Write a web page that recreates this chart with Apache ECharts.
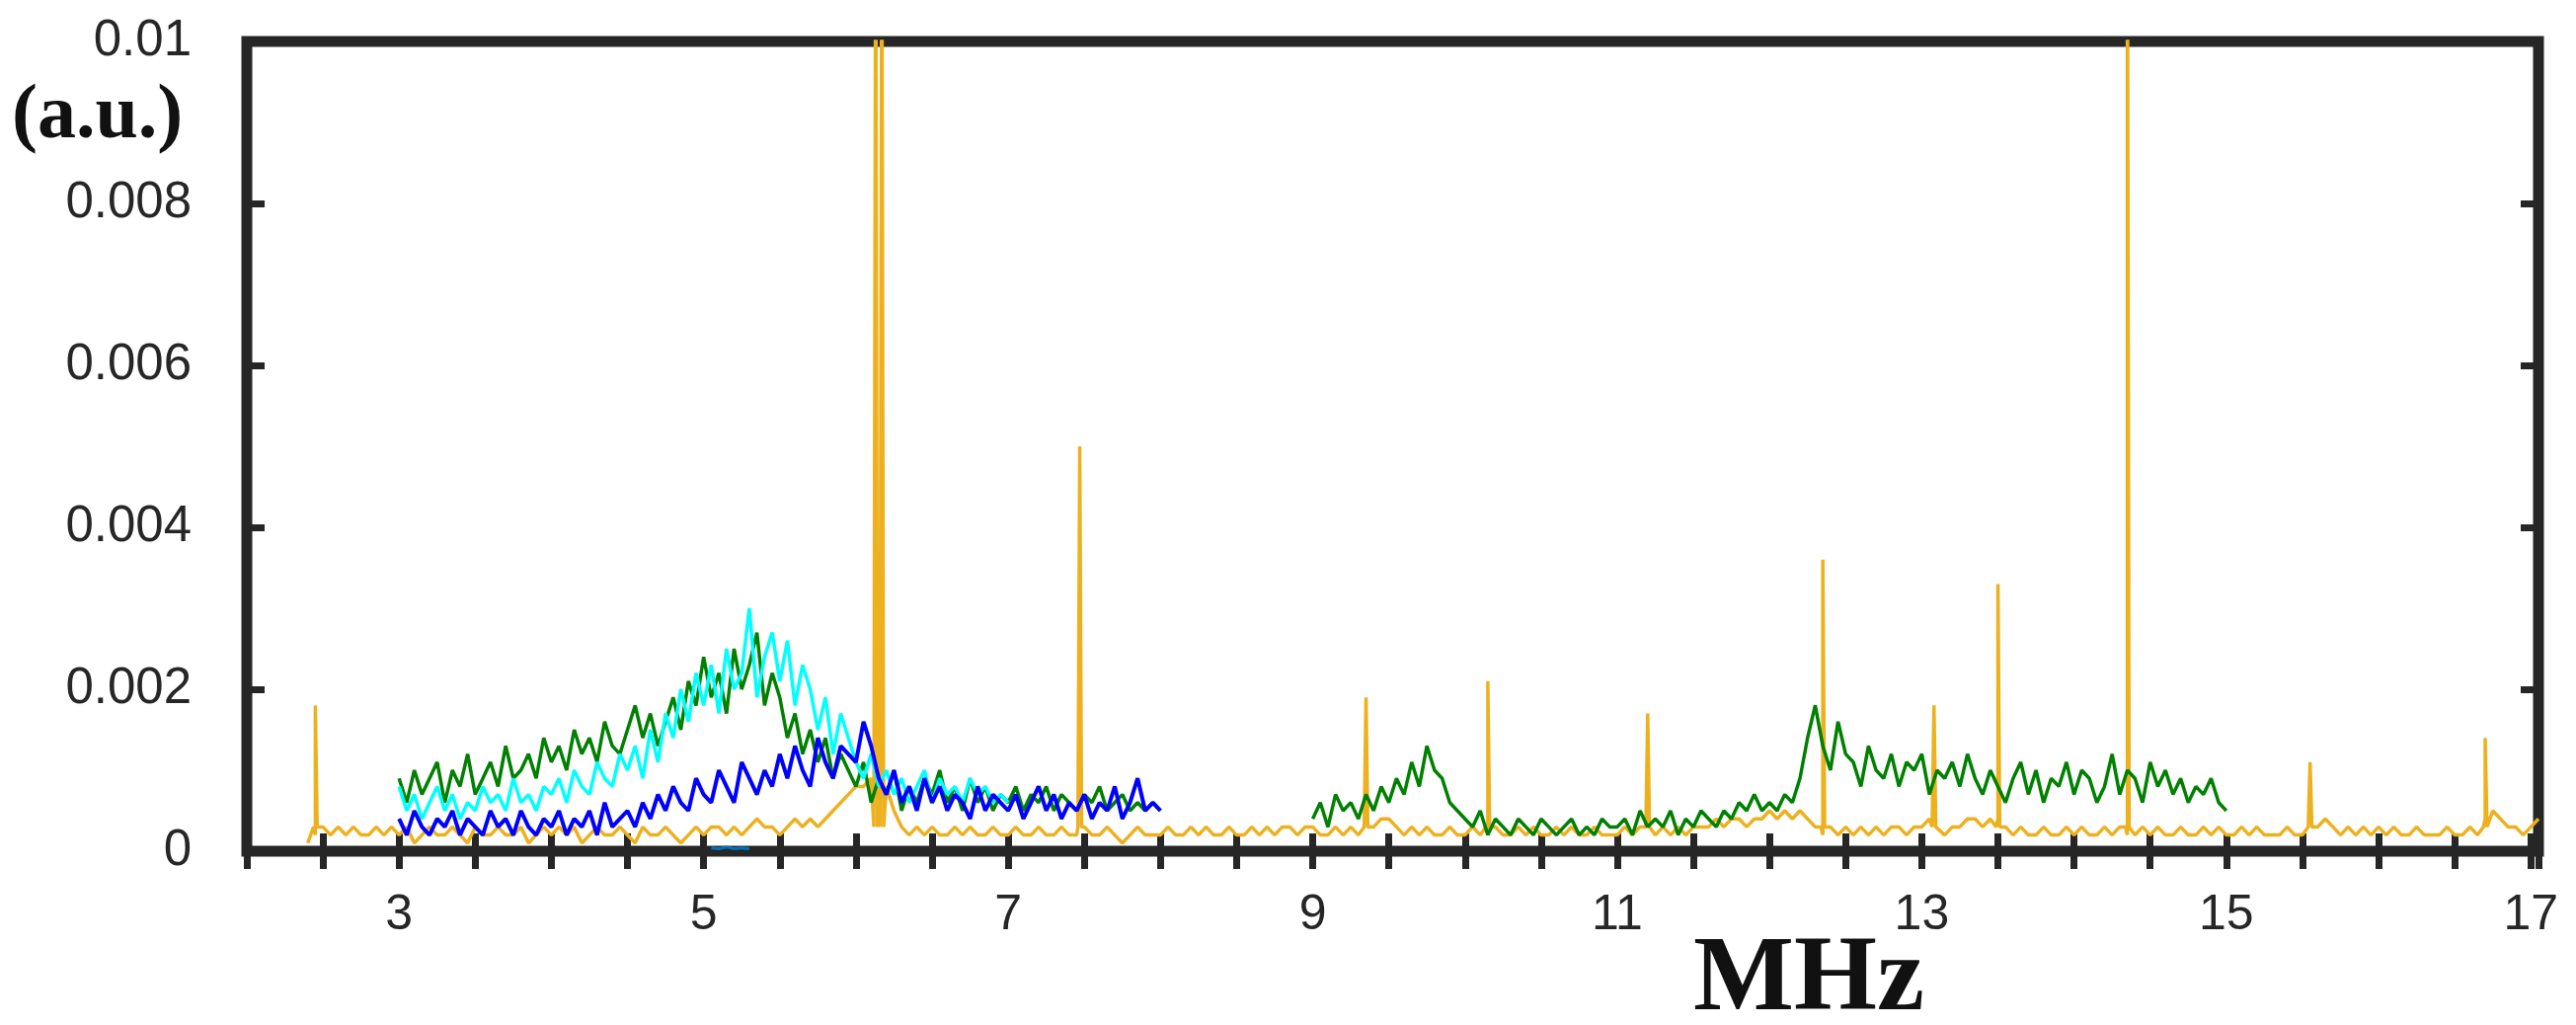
<!DOCTYPE html>
<html><head><meta charset="utf-8">
<script src="https://cdn.jsdelivr.net/npm/echarts@6/dist/echarts.min.js"></script>
<style>html,body{margin:0;padding:0;background:#fff}#c{width:2609px;height:1038px}</style>
</head><body><div id="c"></div>
<script>
// values in units of 1e-4 (a.u.)
const orangeStart = 2.4, step = 0.05;
const orangeBase = [
1,2,3,2,3,2,3,2,2,3,2,3,
2,3,1,2,3,2,2,3,2,1,3,2,2,3,2,2,3,1,2,3,
2,3,2,3,1,2,3,2,2,3,2,1,3,2,2,3,2,1,2,3,
2,3,3,2,3,2,3,4,3,3,2,3,4,3,4,3,4,5,6,7,
8,8,9,7,8,5,3,2,3,2,3,2,2,3,2,3,2,2,3,2,
2,3,2,2,3,2,2,3,2,2,3,2,2,3,2,1,2,3,2,2,
2,3,2,2,3,2,3,2,2,3,2,2,3,2,3,2,3,3,2,3,
3,2,2,3,2,3,2,3,3,4,4,3,2,3,2,3,2,2,3,2,
2,3,2,2,3,2,2,3,2,3,2,2,3,2,3,2,2,3,2,2,
2,3,2,3,3,2,3,2,3,2,3,3,3,4,3,4,4,3,4,4,
5,4,5,4,5,4,3,2,3,2,3,2,3,2,3,2,3,3,2,3,
3,4,3,2,3,3,4,4,3,4,4,3,2,3,2,2,3,2,2,3,
2,3,2,2,3,2,3,2,2,3,2,3,2,2,3,2,2,3,2,3,
2,2,3,2,3,2,2,2,3,2,2,3,3,4,3,2,3,2,3,2,
3,2,3,2,2,3,2,2,2,3,2,2,3,2,4,5,4,3,3,2,
3,4];
const orangePeaks = [[2.45,18],[6.13,120],[6.17,120],[7.47,50],[9.35,19],[10.15,21],[11.2,17],[12.35,36],[13.08,18],[13.5,33],[14.35,120],[15.55,11],[16.7,14]];
const greenAStart = 3.0;
const greenA = [
9,6,10,7,9,11,6,10,8,12,7,9,11,8,13,9,10,12,9,14,
11,13,10,15,12,14,11,16,13,12,15,18,14,17,13,16,19,15,21,18,
24,19,22,17,25,20,23,27,18,22,19,14,17,12,15,11,14,9,12,10,
8,11,6,9,7,10,5,8,6,9,7,10,6,8,5,9,6,8,5,7,
6,8,5,7,6,8,5,7,6,5,7,6,8,5,6,7,5,6,5,6,5];
const greenBStart = 9.0;
const greenB = [
4,6,3,7,5,6,4,7,5,8,6,9,7,11,8,13,10,9,6,5,
4,3,5,2,4,3,2,4,3,2,4,3,2,3,4,2,3,2,4,3,
3,4,2,5,3,4,3,5,2,4,3,5,4,3,5,4,6,5,7,5,
6,5,7,6,9,14,18,13,10,16,12,11,8,13,10,9,12,8,11,10,
12,7,10,9,11,8,12,9,7,10,8,6,9,11,7,10,6,9,8,11,
7,10,9,6,8,12,7,10,9,6,11,8,10,7,9,6,8,7,9,6,5];
const cyanStart = 3.0;
const cyan = [
8,5,7,4,6,8,5,7,4,6,5,8,6,7,5,9,6,7,5,8,
7,9,6,10,8,7,11,9,8,12,10,13,9,15,11,17,14,20,16,22,
18,23,17,25,20,22,30,19,24,27,21,26,18,23,20,15,19,12,17,14,
11,9,12,8,10,7,9,6,8,10,6,9,7,8,6,9,7,8,6,7,6];
const blueStart = 3.0;
const blue = [
4,2,5,3,2,4,3,5,2,4,3,2,5,3,4,2,5,3,2,4,
3,5,2,4,3,5,2,6,3,4,5,3,6,4,7,5,8,6,5,9,
7,6,10,8,6,11,9,7,10,8,12,9,13,10,8,14,11,9,13,12,
11,16,13,9,7,10,6,8,5,9,6,8,5,7,6,4,8,5,7,6,
5,7,4,6,8,5,7,4,6,5,7,4,6,5,8,4,6,9,5,6,5];
const smallStart = 5.05;
const small = [0.4,0.3,0.5,0.3,0.4,0.3];
const yTickLabels = ['0','0.002','0.004','0.006','0.008','0.01'];
const xTickLabels = ['3','5','7','9','11','13','15','17'];

function build(start, arr){ return arr.map((v,i)=>[+(start+i*step).toFixed(3), v*1e-4]); }
function buildOrange(){
  const pts = build(orangeStart, orangeBase);
  orangePeaks.forEach(([x,v])=>{
    pts.push([x-0.012, 3e-4],[x, v*1e-4],[x+0.012, 3e-4]);
  });
  pts.sort((a,b)=>a[0]-b[0]);
  return pts;
}
const lineSeries = (name,data,color,w,z)=>({name,type:'line',data,showSymbol:false,symbol:'none',
  lineStyle:{color,width:w},itemStyle:{color},z,clip:true,animation:false,xAxisIndex:0,yAxisIndex:0});

const font = 'Liberation Sans';
const chart = echarts.init(document.getElementById('c'));
const axisTick = {show:true,inside:true,length:18,lineStyle:{color:'#262626',width:7}};
chart.setOption({
  backgroundColor:'#fff',
  animation:false,
  grid:{left:250,right:38,top:42,bottom:176,show:true,borderColor:'#262626',borderWidth:11,backgroundColor:'transparent'},
  xAxis:[{type:'value',min:2,max:17.05,interval:0.5,
    axisLine:{show:false},splitLine:{show:false},axisTick,
    axisLabel:{margin:40,fontSize:50,fontFamily:font,color:'#262626',showMaxLabel:true,
      formatter:v=>{const s=String(Math.round(v*100)/100);return xTickLabels.includes(s)?s:'';}}},
    {type:'value',position:'top',min:2,max:17.05,interval:0.5,axisLine:{show:false},splitLine:{show:false},axisTick,axisLabel:{show:false}}],
  yAxis:[{type:'value',min:0,max:0.01,interval:0.002,
    axisLine:{show:false},splitLine:{show:false},axisTick,
    axisLabel:{margin:56,fontSize:51,fontFamily:font,color:'#262626',
      formatter:v=>yTickLabels[Math.round(v/0.002)]}},
    {type:'value',position:'right',min:0,max:0.01,interval:0.002,axisLine:{show:false},splitLine:{show:false},axisTick,axisLabel:{show:false}}],
  graphic:[
    {type:'text',left:12,top:80,style:{text:'(a.u.)',font:'bold 78px "Liberation Serif"',fill:'#111'}},
    {type:'text',left:1715,top:940,style:{text:'MHz',font:'bold 108px "Liberation Serif"',fill:'#111'}}
  ],
  series:[
    lineSeries('orange',buildOrange(),'#EDB120',3.5,1),
    lineSeries('small',build(smallStart,small),'#0072BD',3,2),
    lineSeries('greenA',build(greenAStart,greenA),'#008000',3.5,3),
    lineSeries('cyan',build(cyanStart,cyan),'#00FFFF',3.5,4),
    lineSeries('blue',build(blueStart,blue),'#0000FF',4,5),
    lineSeries('greenB',build(greenBStart,greenB),'#008000',3.5,3)
  ]
});
</script></body></html>
